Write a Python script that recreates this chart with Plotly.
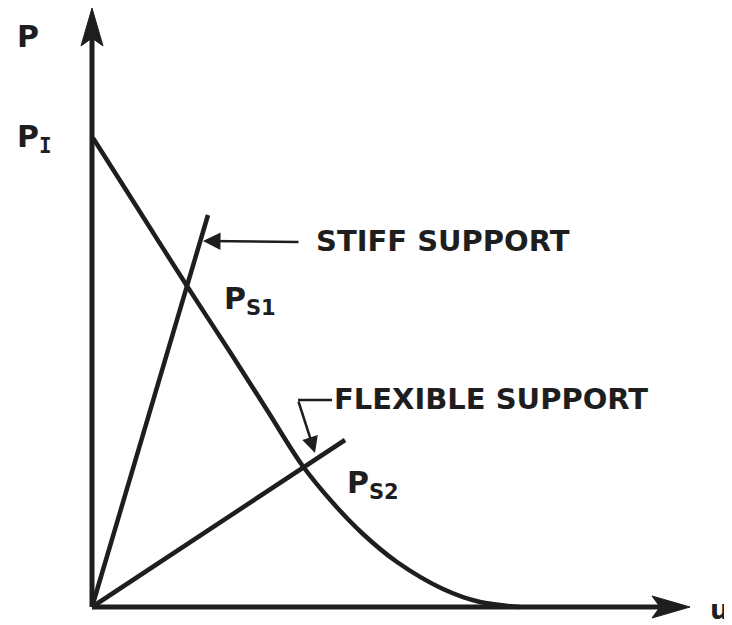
import plotly.graph_objects as go

# Schematic data (u = displacement, P = load), arbitrary units
curve_u = [1, 48, 95, 138, 175, 210, 241, 271, 305, 351, 388, 428]
curve_P = [469, 395, 321, 255, 197, 142, 104, 73, 45, 18, 5, 0]

stiff_u = [0, 116]
stiff_P = [0, 392]

flex_u = [0, 253]
flex_P = [0, 167]

axis_u_max = 598
axis_P_max = 599

FONT = "DejaVu Sans"
BLACK = "#1e1e1e"

fig = go.Figure()

# axes lines
fig.add_trace(go.Scatter(x=[0, axis_u_max - 30], y=[0, 0], mode="lines",
                         line=dict(color=BLACK, width=5), hoverinfo="skip"))
fig.add_trace(go.Scatter(x=[0, 0], y=[0, axis_P_max - 30], mode="lines",
                         line=dict(color=BLACK, width=5), hoverinfo="skip"))

# curve
fig.add_trace(go.Scatter(x=curve_u, y=curve_P, mode="lines",
                         line=dict(color=BLACK, width=4.5, shape="spline", smoothing=0.9),
                         hoverinfo="skip"))
# support lines
fig.add_trace(go.Scatter(x=stiff_u, y=stiff_P, mode="lines",
                         line=dict(color=BLACK, width=4.5), hoverinfo="skip"))
fig.add_trace(go.Scatter(x=flex_u, y=flex_P, mode="lines",
                         line=dict(color=BLACK, width=4.5), hoverinfo="skip"))

# flexible leader horizontal piece
fig.add_trace(go.Scatter(x=[240, 206], y=[207, 207], mode="lines",
                         line=dict(color=BLACK, width=2.5), hoverinfo="skip"))

# arrow heads for axes as filled paths
def tri(pts):
    return "M " + " L ".join(f"{a},{b}" for a, b in pts) + " Z"

fig.add_shape(type="path", path=tri([(axis_u_max, 0), (axis_u_max - 38, 11), (axis_u_max - 30, 0), (axis_u_max - 38, -11)]),
              fillcolor=BLACK, line=dict(color=BLACK, width=1))
fig.add_shape(type="path", path=tri([(0, axis_P_max), (-11, axis_P_max - 38), (0, axis_P_max - 30), (11, axis_P_max - 38)]),
              fillcolor=BLACK, line=dict(color=BLACK, width=1))

# leader arrows
fig.add_annotation(x=111, y=366, ax=208, ay=365, xref="x", yref="y", axref="x", ayref="y",
                   text="", showarrow=True, arrowhead=2, arrowsize=1.4, arrowwidth=2.5, arrowcolor=BLACK)
fig.add_annotation(x=223, y=154, ax=206, ay=207, xref="x", yref="y", axref="x", ayref="y",
                   text="", showarrow=True, arrowhead=2, arrowsize=1.3, arrowwidth=2.5, arrowcolor=BLACK)

def label(x, y, text, size=29, anchor="left"):
    fig.add_annotation(x=x, y=y, xref="x", yref="y", text=text, showarrow=False,
                       xanchor=anchor, yanchor="middle",
                       font=dict(family=FONT, size=size, color=BLACK))

label(222, 366, "<b>STIFF SUPPORT</b>")
label(240, 208, "<b>FLEXIBLE SUPPORT</b>")
label(-77, 571, "<b>P</b>", size=30)
label(-77, 469,
      "<b>P</b><sub><span style='font-family:DejaVu Sans Mono'><b>I</b></span></sub>", size=30)
label(130, 307, "<b>P<sub>S1</sub></b>", size=30)
label(253, 123, "<b>P<sub>S2</sub></b>", size=30)
label(639, -2, "<b>u</b>", size=27, anchor="right")

# the page places the figure 8 px in from the top-left corner; ranges compensate
fig.update_layout(
    width=732, height=625,
    margin=dict(l=0, r=0, t=0, b=0),
    paper_bgcolor="white", plot_bgcolor="white",
    showlegend=False,
    xaxis=dict(range=[-84, 648], visible=False, fixedrange=True),
    yaxis=dict(range=[-26, 599], visible=False, fixedrange=True),
)

fig.write_html("out.html")
